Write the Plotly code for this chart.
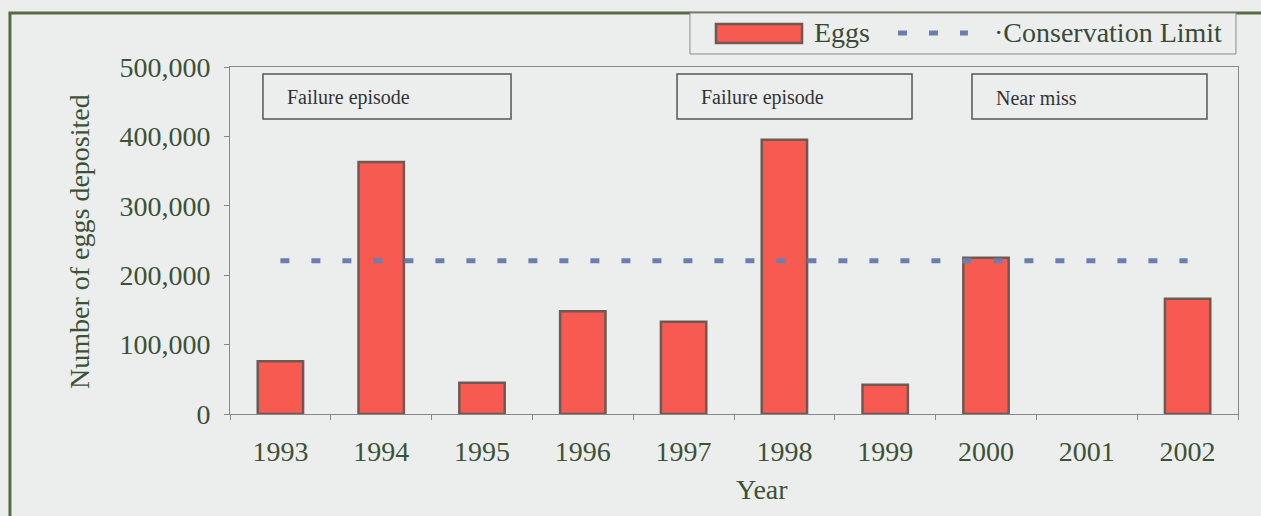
import plotly.graph_objects as go

years = ["1993", "1994", "1995", "1996", "1997", "1998", "1999", "2000", "2001", "2002"]
eggs = [76000, 363000, 45000, 148000, 133000, 395000, 42000, 225000, None, 166000]
conservation_limit = [221000] * len(years)
y_ticks = [0, 100000, 200000, 300000, 400000, 500000]
y_tick_labels = ["0", "100,000", "200,000", "300,000", "400,000", "500,000"]
episode_labels = [("Failure episode", 0.0327, 0.2788), ("Failure episode", 0.4435, 0.6766), ("Near miss", 0.7361, 0.9692)]

font_family = "Liberation Serif"
text_color = "#3c5237"
bar_color = "#f65a50"
bar_line = "#6e5a52"
limit_color = "#6a7fae"
bg = "#eceeed"
dash = "9px,22px"

fig = go.Figure()
fig.add_trace(go.Bar(
    x=years, y=eggs, name="Eggs", showlegend=False,
    marker=dict(color=bar_color, line=dict(color=bar_line, width=2.5)),
    width=0.45,
))
fig.add_trace(go.Scatter(
    x=years, y=conservation_limit, name="Conservation Limit", mode="lines", showlegend=False,
    line=dict(color=limit_color, width=5, dash=dash),
))

shapes = [
    # outer frame
    dict(type="rect", xref="paper", yref="paper", x0=-0.2183, x1=1.08, y0=-0.35, y1=1.1556,
         line=dict(color="#566b42", width=3), layer="below"),
    # custom legend box
    dict(type="rect", xref="paper", yref="paper", x0=0.4563, x1=0.998, y0=1.0375, y1=1.1556,
         line=dict(color="#8a8a8a", width=1), fillcolor=bg),
    dict(type="rect", xref="paper", yref="paper", x0=0.4821, x1=0.5675, y0=1.069, y1=1.124,
         line=dict(color=bar_line, width=2.5), fillcolor=bar_color),
    dict(type="line", xref="paper", yref="paper", x0=0.6627, x1=0.7321, y0=1.098, y1=1.098,
         line=dict(color=limit_color, width=5, dash=dash)),
]
legend_font = dict(family=font_family, size=28, color="#3a4a36")
annotations = [
    dict(xref="paper", yref="paper", x=0.5774, y=1.099, text="Eggs", showarrow=False,
         xanchor="left", yanchor="middle", font=legend_font),
    dict(xref="paper", yref="paper", x=0.756, y=1.099, text="\u00b7Conservation Limit", showarrow=False,
         xanchor="left", yanchor="middle", font=legend_font),
    dict(xref="paper", yref="paper", x=-0.1488, y=0.4957, text="Number of eggs deposited", showarrow=False,
         textangle=-90, xanchor="center", yanchor="middle",
         font=dict(family=font_family, size=28, color=text_color)),
    dict(xref="paper", yref="paper", x=0.5278, y=-0.219, text="Year", showarrow=False,
         xanchor="center", yanchor="middle", font=dict(family=font_family, size=28, color=text_color)),
]
for label, x0, x1 in episode_labels:
    shapes.append(dict(type="rect", xref="paper", yref="paper", x0=x0, x1=x1, y0=0.8501, y1=0.9798,
                       line=dict(color="#555555", width=1.5), fillcolor="rgba(0,0,0,0)"))
    annotations.append(dict(xref="paper", yref="paper", x=x0 + 0.022, y=0.9107, text=label,
                            showarrow=False, xanchor="left", yanchor="middle",
                            font=dict(family=font_family, size=20, color="#333333")))

fig.update_layout(
    width=1261, height=516,
    margin=dict(l=230, r=23, t=67, b=102),
    paper_bgcolor=bg, plot_bgcolor=bg,
    font=dict(family=font_family, color=text_color, size=28),
    showlegend=False,
    shapes=shapes,
    annotations=annotations,
    xaxis=dict(showline=True, linecolor="#888888",
               mirror=True, ticks="outside", tickson="boundaries", ticklen=5, tickcolor="#888888",
               showgrid=False, tickfont=dict(size=28), ticklabelstandoff=12),
    yaxis=dict(range=[0, 500000], tickvals=y_ticks, ticktext=y_tick_labels,
               showline=True, linecolor="#888888", mirror=True, ticks="outside", ticklen=5,
               tickcolor="#888888", showgrid=False, zeroline=False, tickfont=dict(size=28),
               ticklabelstandoff=8),
)

fig.write_html("out.html", config={"displayModeBar": False},
               post_script="document.body.style.margin='0px';document.body.style.background='%s';" % bg)
